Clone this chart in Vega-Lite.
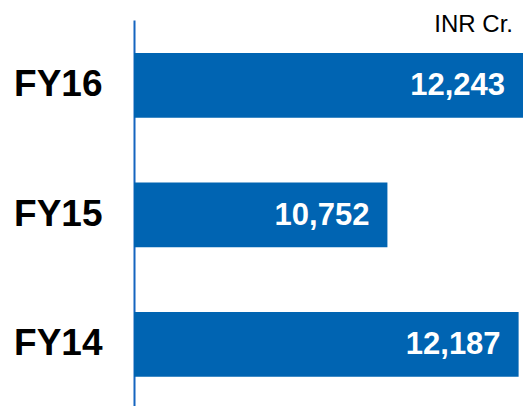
{
  "$schema": "https://vega.github.io/schema/vega-lite/v6.json",
  "width": 389,
  "height": 386,
  "autosize": {"type": "none"},
  "padding": {"left": 134, "top": 20, "right": 0, "bottom": 0},
  "background": "white",
  "config": {"view": {"stroke": null}, "font": "Liberation Sans"},
  "title": {"text": "INR Cr.", "anchor": "end", "fontSize": 24, "fontWeight": "normal", "color": "#000000", "font": "Liberation Sans", "baseline": "alphabetic", "offset": 0, "dy": 36, "dx": -10},
  "data": {"values": [
    {"year": "FY16", "value": 12243},
    {"year": "FY15", "value": 10752},
    {"year": "FY14", "value": 12187}
  ]},
  "encoding": {
    "y": {"field": "year", "type": "nominal", "sort": ["FY16", "FY15", "FY14"],
      "scale": {"paddingInner": 0.5, "paddingOuter": 0.241, "align": 0.53},
      "axis": {"title": null, "ticks": false, "labelFontSize": 37, "labelFontWeight": "bold", "labelColor": "#000000", "labelPadding": 32, "domainColor": "#1565C0", "domainWidth": 2, "labelFont": "Liberation Sans"}},
    "x": {"field": "value", "type": "quantitative", "scale": {"domain": [7980, 12235], "zero": false, "nice": false}, "axis": null}
  },
  "layer": [
    {"mark": {"type": "bar", "color": "#0064B2", "clip": true}},
    {"mark": {"type": "text", "align": "right", "baseline": "middle", "dx": -18, "dy": 1, "color": "white", "fontSize": 31, "fontWeight": "bold", "clip": false},
     "encoding": {"text": {"field": "value", "type": "quantitative", "format": ",d"}, "x": {"field": "value", "type": "quantitative", "scale": {"domain": [7980, 12235], "zero": false, "nice": false, "clamp": true}}}}
  ]
}
